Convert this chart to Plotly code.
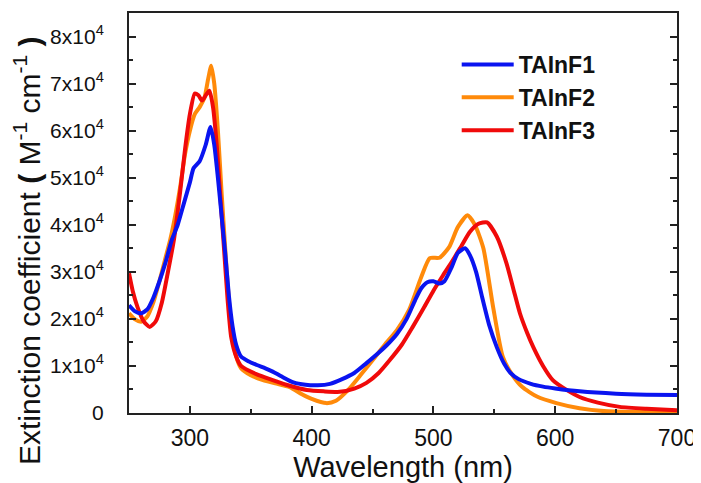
import plotly.graph_objects as go

# ---- data ----
wl_f1 = [250, 255, 260, 265, 270, 275, 280, 285, 290, 295, 300, 303, 308, 313, 317,
         320, 323, 326, 329, 332, 335, 338, 342, 348, 355, 362, 368, 375, 385, 395,
         405, 415, 425, 435, 445, 455, 462, 470, 478, 485, 490, 495, 500, 505, 509,
         515, 520, 526, 530, 535, 540, 546, 552, 558, 563, 570, 580, 590, 600, 620,
         650, 675, 700]
ext_f1 = [22900, 21600, 21200, 22000, 24500, 28000, 32000, 36700, 40000, 44500, 49000, 52000, 53500, 57000, 60800,
          57000, 50000, 42000, 34000, 25000, 18500, 14500, 12000, 11000, 10200, 9500, 8800, 7800, 6500, 6000,
          5900, 6200, 7200, 8500, 10600, 12800, 14500, 16800, 20000, 24000, 26500, 27800, 28000, 27500, 28000,
          31000, 34000, 35000, 33500, 30000, 24600, 18500, 14000, 10500, 8600, 7200, 6200, 5600, 5200, 4600,
          4100, 3900, 3800]

wl_f2 = [250, 255, 260, 265, 270, 275, 280, 284, 288, 292, 296, 300, 304, 308, 312,
         315, 317.5, 320, 323, 326, 329, 332, 335, 338, 342, 350, 360, 370, 382, 392,
         400, 412, 420, 430, 440, 450, 460, 470, 480, 490, 497, 505, 513, 520, 528,
         534, 541, 549, 557, 565, 573, 585, 601, 620, 640, 670, 700]
ext_f2 = [21200, 19900, 19400, 20500, 23500, 28000, 33000, 37000, 42000, 48000, 55000, 60000, 63500, 65000, 67000,
          71000, 73800, 70000, 60000, 47000, 35000, 24000, 16000, 12000, 9500, 8000, 7000, 6300, 5500, 4000,
          3000, 2100, 2600, 4900, 8000, 11200, 14500, 17600, 21900, 28900, 32900, 33000, 35300, 39500, 42000,
          40000, 35000, 22500, 11900, 8000, 5500, 3500, 2100, 1000, 400, 200, 100]

wl_f3 = [250, 253, 257, 262, 267, 272, 277, 282, 287, 292, 296, 300, 304, 307, 310,
         313, 316, 319, 322, 325, 328, 331, 334, 338, 342, 355, 368, 382, 396, 410,
         423, 435, 445, 455, 464, 474, 483, 492, 500, 508, 516, 523, 530, 537, 544,
         552, 560, 566, 571, 577, 582, 590, 598, 610, 620, 635, 653, 675, 700]
ext_f3 = [29700, 26000, 22500, 19500, 18300, 19500, 23500, 30000, 37000, 47000, 56000, 63500, 67900, 67500, 66400,
          67500, 68500, 65000, 57000, 46000, 35000, 24000, 16000, 12000, 10000, 8200, 7000, 5800, 4900, 4600,
          4500, 5200, 6400, 8500, 11200, 14500, 18300, 22300, 26000, 29300, 32500, 35500, 38500, 40200, 40500,
          37500, 31800, 26000, 21200, 17000, 14000, 10000, 7000, 4800, 3400, 2200, 1300, 900, 600]

names = ["TAInF1", "TAInF2", "TAInF3"]
colors = ["#0a14f0", "#ff8a0a", "#f00a0a"]

y_tickvals = [0, 10000, 20000, 30000, 40000, 50000, 60000, 70000, 80000]
y_ticktext = ["0"] + [f"{i}x10<sup>4</sup>" for i in range(1, 9)]
x_tickvals = [300, 400, 500, 600, 700]

FONT = "Liberation Sans, Arial, sans-serif"

fig = go.Figure()
series = [(wl_f2, ext_f2, 1), (wl_f3, ext_f3, 2), (wl_f1, ext_f1, 0)]
for wl, ext, idx in series:
    fig.add_trace(go.Scatter(
        x=wl, y=ext, mode="lines", name=names[idx],
        line=dict(color=colors[idx], width=4, shape="spline", smoothing=0.6),
        legendrank=idx + 1, legendgroup=names[idx],
    ))

fig.update_layout(
    width=701, height=483,
    margin=dict(l=121, r=32, t=5, b=78),
    paper_bgcolor="white", plot_bgcolor="white",
    font=dict(family=FONT, color="#111111"),
    showlegend=True,
    legend=dict(
        x=0.598, y=0.925, xanchor="left", yanchor="top",
        font=dict(family=FONT, size=23, color="#111111", weight="bold"),
        bgcolor="rgba(0,0,0,0)", tracegroupgap=0, itemwidth=52,
        traceorder="grouped",
    ),
    annotations=[dict(
        text="Extinction coefficient <b>(</b> M<sup>-1</sup> cm<sup>-1</sup> <b>)</b>",
        xref="paper", yref="paper", x=-0.186, y=0.405,
        xanchor="center", yanchor="middle", textangle=-90, showarrow=False,
        font=dict(size=30, family=FONT, color="#111111"),
    )],
)

fig.update_xaxes(
    range=[250, 700], tickvals=x_tickvals, ticktext=[str(v) for v in x_tickvals],
    ticks="inside", ticklen=7, tickwidth=1.5, tickcolor="#222222",
    showline=True, linewidth=2, linecolor="#222222", mirror=True,
    showgrid=False, zeroline=False, automargin=False,
    tickfont=dict(size=23, family=FONT, color="#111111"),
    ticklabelstandoff=3,
    minor=dict(tickmode="linear", tick0=250, dtick=50, ticks="inside", ticklen=4, tickcolor="#222222"),
    title=dict(text="Wavelength (nm)", font=dict(size=29, family=FONT, color="#111111"), standoff=0),
)
fig.update_yaxes(
    range=[0, 85000], tickvals=y_tickvals, ticktext=y_ticktext,
    ticks="inside", ticklen=7, tickwidth=1.5, tickcolor="#222222",
    showline=True, linewidth=2, linecolor="#222222", mirror="ticks",
    showgrid=False, zeroline=False, automargin=False,
    tickfont=dict(size=21, family=FONT, color="#111111"),
    ticklabelstandoff=19,
    minor=dict(tickmode="linear", tick0=0, dtick=5000, ticks="inside", ticklen=4, tickcolor="#222222"),
)

fig.write_html("out.html")
